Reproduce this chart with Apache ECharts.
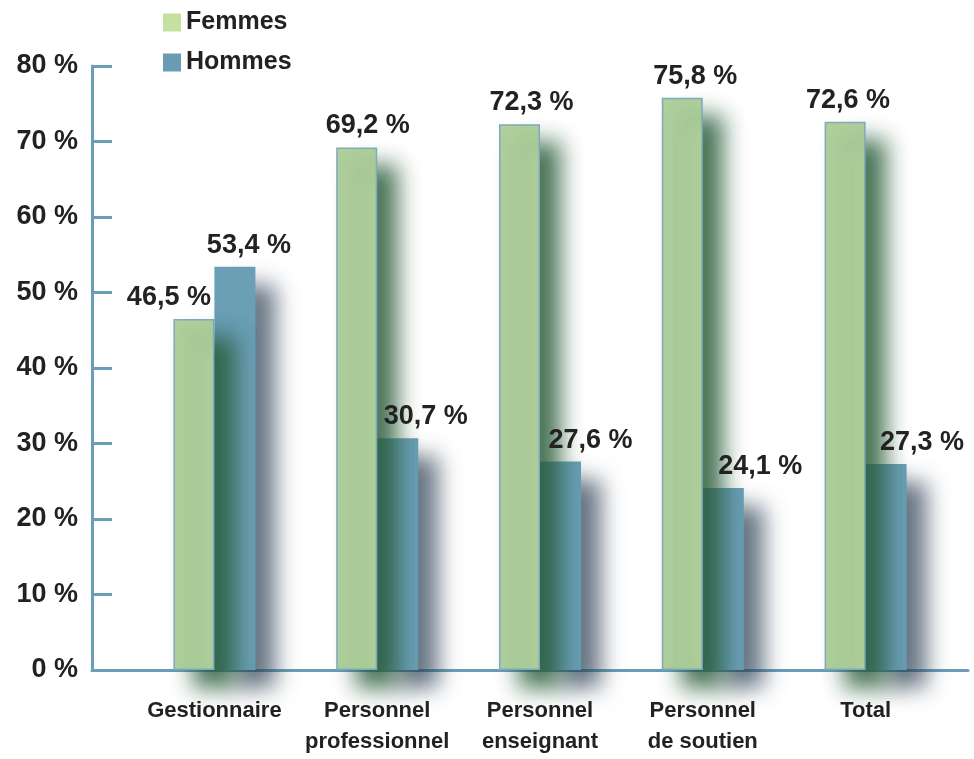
<!DOCTYPE html>
<html>
<head>
<meta charset="utf-8">
<script src="https://cdn.jsdelivr.net/npm/echarts@6/dist/echarts.min.js"></script>
<style>
  html, body { margin: 0; padding: 0; background: #fff; }
  #chart { width: 974px; height: 759px; }
</style>
</head>
<body>
<div id="chart"></div>
<script>
// data
const categories = ['Gestionnaire', 'Personnel\nprofessionnel', 'Personnel\nenseignant', 'Personnel\nde soutien', 'Total'];
const femmes = [46.5, 69.2, 72.3, 75.8, 72.6];
const hommes = [53.4, 30.7, 27.6, 24.1, 27.3];
const yTicks = [0, 10, 20, 30, 40, 50, 60, 70, 80];

// label nudges (px), style only
const femLabelDx = [-25, 11, 12, 13, 3];
const homLabelDx = [14, 28, 30, 37, 36];

const axisBlue = '#6a9eb8';
const font = '"Liberation Sans", Arial, sans-serif';
const fmt = v => v.toFixed(1).replace('.', ',') + ' %';

const chart = echarts.init(document.getElementById('chart'));

const valueLabel = {
  show: true,
  position: 'top',
  distance: 8,
  color: '#222',
  fontFamily: font,
  fontWeight: 'bold',
  fontSize: 27,
  formatter: p => fmt(p.value)
};

const option = {
  animation: false,
  legend: {
    data: [
      { name: 'Femmes', itemStyle: { color: '#c5e0a0', borderWidth: 0, shadowBlur: 0 } },
      { name: 'Hommes', itemStyle: { color: '#6a9bb5', borderWidth: 0, shadowBlur: 0 } }
    ],
    orient: 'vertical',
    left: 158,
    top: 5,
    itemWidth: 18,
    itemHeight: 18,
    itemGap: 15,
    icon: 'rect',
    textStyle: { fontFamily: font, fontWeight: 'bold', fontSize: 25, color: '#222' }
  },
  grid: [
    { left: 133, right: 27, top: 66, bottom: 89 },
    { left: 92, right: 6, top: 66, bottom: 89 }
  ],
  xAxis: [
    {
      type: 'category', gridIndex: 0, data: categories,
      axisLine: { show: false }, axisTick: { show: false },
      axisLabel: {
        interval: 0, margin: 25, color: '#222', fontFamily: font,
        fontWeight: 'bold', fontSize: 22, lineHeight: 31
      }
    },
    {
      type: 'category', gridIndex: 0, data: categories, show: false
    },
    {
      type: 'category', gridIndex: 1, data: [''],
      axisLine: { show: true, lineStyle: { color: axisBlue, width: 3 } },
      axisTick: { show: false }, axisLabel: { show: false }
    }
  ],
  yAxis: [
    { type: 'value', gridIndex: 0, min: 0, max: 80, interval: 10, show: false },
    {
      type: 'value', gridIndex: 1, min: 0, max: 80, interval: 10,
      axisLine: { show: true, lineStyle: { color: axisBlue, width: 3 } },
      axisTick: { show: true, inside: true, length: 20, lineStyle: { color: axisBlue, width: 3 } },
      splitLine: { show: false },
      axisLabel: {
        margin: 14, color: '#222', fontFamily: font, fontWeight: 'bold', fontSize: 27,
        formatter: v => yTicks.includes(v) ? v + ' %' : ''
      }
    }
  ],
  series: [
    {
      name: 'Femmes', type: 'bar', xAxisIndex: 0, yAxisIndex: 0, z: 3,
      barWidth: 41, barGap: '0%',
      data: femmes,
      itemStyle: {
        color: '#b0d09c', borderColor: '#7fa9bf', borderWidth: 1.5,
        shadowColor: 'rgba(40,90,55,0.85)', shadowBlur: 22, shadowOffsetX: 20, shadowOffsetY: 18
      }
    },
    {
      name: 'Hommes', type: 'bar', xAxisIndex: 0, yAxisIndex: 0, z: 2,
      barWidth: 41, barGap: '0%',
      data: hommes,
      itemStyle: {
        color: '#6a9fb6',
        shadowColor: 'rgba(40,60,80,0.7)', shadowBlur: 22, shadowOffsetX: 20, shadowOffsetY: 18
      }
    },
    // label-only copies drawn above every shadow
    {
      name: 'lblF', type: 'bar', xAxisIndex: 1, yAxisIndex: 0, z: 10, silent: true,
      barWidth: 41, barGap: '0%',
      itemStyle: { color: 'rgba(0,0,0,0)' },
      data: femmes.map((v, i) => ({ value: v, label: Object.assign({}, valueLabel, { offset: [femLabelDx[i], 0] }) }))
    },
    {
      name: 'lblH', type: 'bar', xAxisIndex: 1, yAxisIndex: 0, z: 10, silent: true,
      barWidth: 41, barGap: '0%',
      itemStyle: { color: 'rgba(0,0,0,0)' },
      data: hommes.map((v, i) => ({ value: v, label: Object.assign({}, valueLabel, { offset: [homLabelDx[i], 0] }) }))
    }
  ]
};

chart.setOption(option);
</script>
</body>
</html>
